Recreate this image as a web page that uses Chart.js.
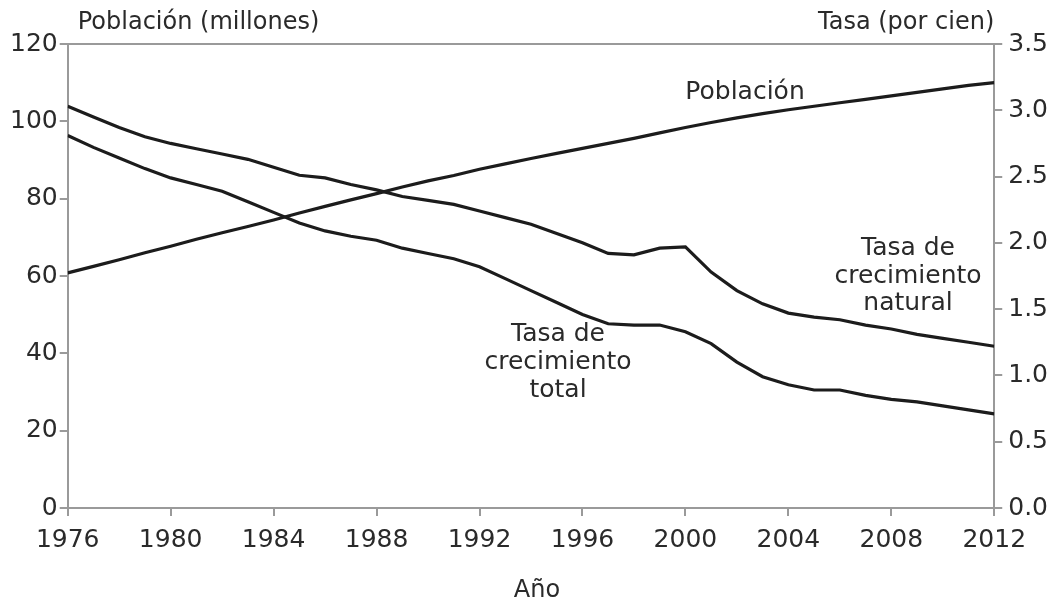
<!DOCTYPE html>
<html>
<head>
<meta charset="utf-8">
<script src="https://cdn.jsdelivr.net/npm/chart.js@4/dist/chart.umd.min.js"></script>
<style>
  html, body { margin: 0; padding: 0; background: #fff; }
  #wrap { width: 1056px; height: 604px; }
</style>
</head>
<body>
<div id="wrap"><canvas id="chart"></canvas></div>
<script>
// years on the x axis
var years = [1976, 1977, 1978, 1979, 1980, 1981, 1982, 1983, 1984, 1985, 1986, 1987,
  1988, 1989, 1990, 1991, 1992, 1993, 1994, 1995, 1996, 1997, 1998, 1999,
  2000, 2001, 2002, 2003, 2004, 2005, 2006, 2007, 2008, 2009, 2010, 2011, 2012];

// poblacion, millones (eje izquierdo)
var poblacion = [60.8, 62.5, 64.2, 66.0, 67.7, 69.5, 71.2, 72.8, 74.5, 76.3, 78.0, 79.7,
  81.3, 83.0, 84.6, 86.0, 87.6, 89.0, 90.4, 91.7, 93.0, 94.3, 95.6, 97.0,
  98.4, 99.7, 100.9, 102.0, 103.0, 103.9, 104.8, 105.7, 106.6, 107.5, 108.4, 109.3, 110.0];

// tasa de crecimiento natural, por cien (eje derecho)
var tasaNatural = [3.03, 2.95, 2.87, 2.80, 2.75, 2.71, 2.67, 2.63, 2.57, 2.51, 2.49, 2.44,
  2.40, 2.35, 2.32, 2.29, 2.24, 2.19, 2.14, 2.07, 2.00, 1.92, 1.91, 1.96,
  1.97, 1.78, 1.64, 1.54, 1.47, 1.44, 1.42, 1.38, 1.35, 1.31, 1.28, 1.25, 1.22];

// tasa de crecimiento total, por cien (eje derecho)
var tasaTotal = [2.81, 2.72, 2.64, 2.56, 2.49, 2.44, 2.39, 2.31, 2.23, 2.15, 2.09, 2.05,
  2.02, 1.96, 1.92, 1.88, 1.82, 1.73, 1.64, 1.55, 1.46, 1.39, 1.38, 1.38,
  1.33, 1.24, 1.10, 0.99, 0.93, 0.89, 0.89, 0.85, 0.82, 0.80, 0.77, 0.74, 0.71];

var xTicks = [1976, 1980, 1984, 1988, 1992, 1996, 2000, 2004, 2008, 2012];

function pts(vals) {
  return years.map(function (y, i) { return { x: y, y: vals[i] }; });
}

var FONT = 'DejaVu Sans';
var AXIS = '#9a9a9a';
var INK = '#1c1c1c';
var TXT = '#2a2a2a';

var lineStyle = {
  borderColor: INK,
  borderWidth: 3.2,
  pointRadius: 0,
  tension: 0,
  fill: false
};

// axis titles and line labels drawn as plain text
var textPlugin = {
  id: 'labels',
  afterDraw: function (chart) {
    var ctx = chart.ctx;
    var a = chart.chartArea;
    ctx.save();
    ctx.fillStyle = TXT;
    ctx.font = '24px "' + FONT + '"';
    ctx.textBaseline = 'middle';
    ctx.textAlign = 'left';
    ctx.fillText('Población (millones)', a.left + 10, 23);
    ctx.textAlign = 'right';
    ctx.fillText('Tasa (por cien)', a.right, 23);
    ctx.textAlign = 'center';
    ctx.fillText('Año', 537, 591);

    ctx.font = '25px "' + FONT + '"';
    ctx.fillText('Población', 745, 92);
    ctx.fillText('Tasa de', 908, 248);
    ctx.fillText('crecimiento', 908, 276);
    ctx.fillText('natural', 908, 303);
    ctx.fillText('Tasa de', 558, 334);
    ctx.fillText('crecimiento', 558, 362);
    ctx.fillText('total', 558, 390);
    ctx.restore();
  }
};

var axisGrid = {
  display: true,
  drawOnChartArea: false,
  drawTicks: true,
  tickLength: 8,
  color: AXIS,
  lineWidth: 2
};

new Chart(document.getElementById('chart'), {
  type: 'line',
  data: {
    datasets: [
      Object.assign({ label: 'Población', data: pts(poblacion), yAxisID: 'y' }, lineStyle),
      Object.assign({ label: 'Tasa de crecimiento natural', data: pts(tasaNatural), yAxisID: 'y2' }, lineStyle),
      Object.assign({ label: 'Tasa de crecimiento total', data: pts(tasaTotal), yAxisID: 'y2' }, lineStyle)
    ]
  },
  options: {
    responsive: true,
    maintainAspectRatio: false,
    animation: false,
    layout: { padding: { top: 36, right: 2, left: 8, bottom: 40 } },
    plugins: {
      legend: { display: false },
      tooltip: { enabled: false }
    },
    scales: {
      x: {
        type: 'linear',
        min: 1976,
        max: 2012,
        afterBuildTicks: function (s) { s.ticks = xTicks.map(function (v) { return { value: v }; }); },
        ticks: {
          color: TXT,
          font: { family: FONT, size: 25 },
          padding: 9,
          maxRotation: 0,
          callback: function (v) { return String(v); }
        },
        grid: axisGrid,
        border: { display: true, color: AXIS, width: 2 }
      },
      xTop: {
        type: 'linear',
        position: 'top',
        min: 1976,
        max: 2012,
        ticks: { display: false },
        grid: { display: false },
        border: { display: true, color: AXIS, width: 2 }
      },
      y: {
        position: 'left',
        min: 0,
        max: 120,
        ticks: {
          stepSize: 20,
          color: TXT,
          font: { family: FONT, size: 25 },
          padding: 2
        },
        grid: axisGrid,
        border: { display: true, color: AXIS, width: 2 }
      },
      y2: {
        position: 'right',
        min: 0,
        max: 3.5,
        ticks: {
          stepSize: 0.5,
          color: TXT,
          font: { family: FONT, size: 25 },
          padding: 6,
          callback: function (v) { return v.toFixed(1); }
        },
        grid: axisGrid,
        border: { display: true, color: AXIS, width: 2 }
      }
    }
  },
  plugins: [textPlugin]
});
</script>
</body>
</html>
